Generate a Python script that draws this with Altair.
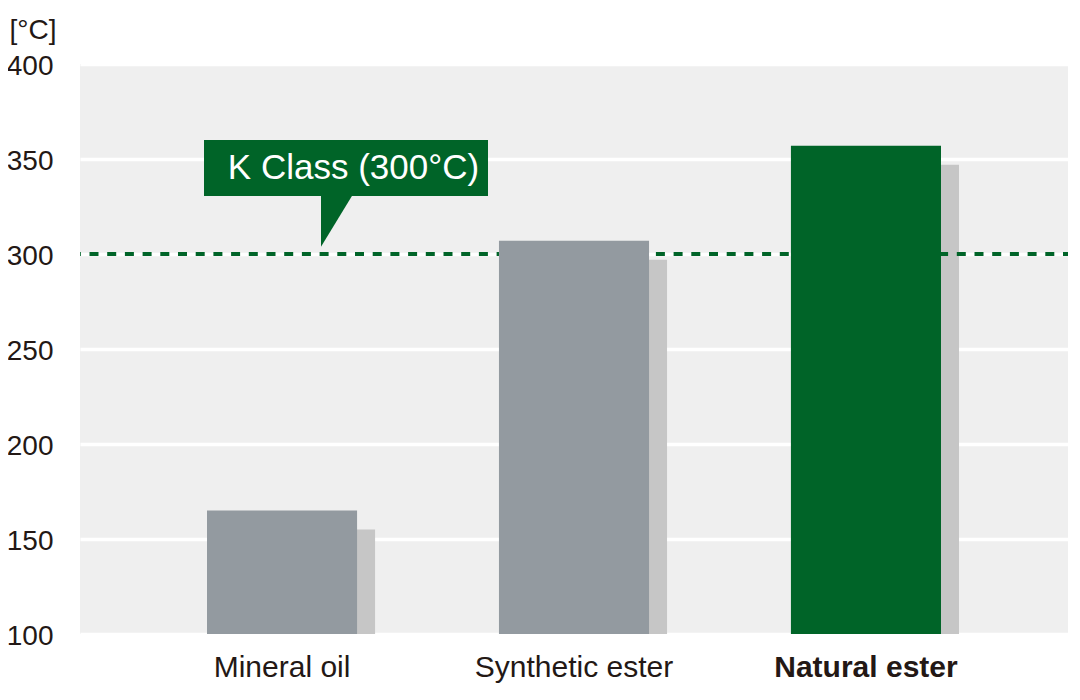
import altair as alt
import pandas as pd

categories = ["Mineral oil", "Synthetic ester", "Natural ester"]
values = [165, 307, 357]
shadow_values = [155, 297, 347]
bar_colors = ["#939aa0", "#939aa0", "#006428"]
k_class = 300
y_ticks = [100, 150, 200, 250, 300, 350, 400]
annotation_text = "K Class (300°C)"

df = pd.DataFrame({"cat": categories, "value": values, "shadow": shadow_values, "base": [100] * 3})

FONT = "Liberation Sans"
TEXT = "#231815"

x_enc = alt.X(
    "cat:N",
    sort=categories,
    title=None,
    scale=alt.Scale(paddingInner=0.486, paddingOuter=0.435),
    axis=alt.Axis(
        labelAngle=0,
        labelFont=FONT,
        labelFontSize=30,
        labelColor=TEXT,
        labelPadding=18,
        labelLimit=500,
        labelFontWeight={"condition": {"test": "datum.value == 'Natural ester'", "value": "bold"}, "value": "normal"},
        ticks=False,
        domain=False,
        grid=False,
    ),
)
y_scale = alt.Scale(domain=[100, 400], zero=False, nice=False)
y_axis = alt.Axis(
    values=y_ticks,
    title="[°C]",
    titleAngle=0,
    titleAlign="left",
    titleBaseline="middle",
    titleX=-71,
    titleY=-34,
    titleFont=FONT,
    titleFontSize=28,
    titleFontWeight="normal",
    titleColor=TEXT,
    labelFont=FONT,
    labelFontSize=28,
    labelColor=TEXT,
    labelPadding=27,
    labelOffset=2,
    ticks=False,
    domain=False,
    grid=True,
    gridColor="white",
    gridWidth=3.5,
)


def Y(field):
    return alt.Y(field, scale=y_scale, axis=y_axis, title="[°C]")


shadow = alt.Chart(df).mark_bar(color="#c6c6c6", xOffset=18).encode(
    x=x_enc,
    y=Y("shadow:Q"),
    y2="base:Q",
)

rule_df = pd.DataFrame({"y": [k_class]})
rule = alt.Chart(rule_df).mark_rule(
    color="#006428", strokeWidth=4, strokeDash=[9, 8.7], strokeDashOffset=4
).encode(y=Y("y:Q"))

main = alt.Chart(df).mark_bar().encode(
    x=x_enc,
    y=Y("value:Q"),
    y2="base:Q",
    color=alt.Color("cat:N", scale=alt.Scale(domain=categories, range=bar_colors), legend=None),
)

# annotation callout
box_df = pd.DataFrame({"top": [360.0], "bottom": [330.5]})
box = alt.Chart(box_df).mark_rect(color="#006428").encode(
    x=alt.value(124), x2=alt.value(408),
    y=Y("top:Q"), y2="bottom:Q",
)
ptr_df = pd.DataFrame({"y": [317.3]})
pointer = alt.Chart(ptr_df).mark_point(
    shape="M-1,-1.05 L0.255,-1.05 L-1,1 Z", filled=True, opacity=1, color="#006428", size=2601, strokeWidth=0
).encode(x=alt.value(266.5), y=Y("y:Q"))
txt_df = pd.DataFrame({"y": [345.3], "t": [annotation_text]})
label = alt.Chart(txt_df).mark_text(
    color="white", font=FONT, fontSize=35, align="center", baseline="middle"
).encode(x=alt.value(273.5), y=Y("y:Q"), text="t:N")

chart = alt.layer(shadow, rule, main, box, pointer, label).properties(
    width=988,
    height=570,
    padding={"left": 72, "top": 56, "right": 4, "bottom": 56},
    autosize=alt.AutoSizeParams(type="none"),
    background="white",
).configure_view(fill="#efefef", strokeWidth=0)

chart.save("out.html", embed_options={"renderer": "svg", "actions": False})
